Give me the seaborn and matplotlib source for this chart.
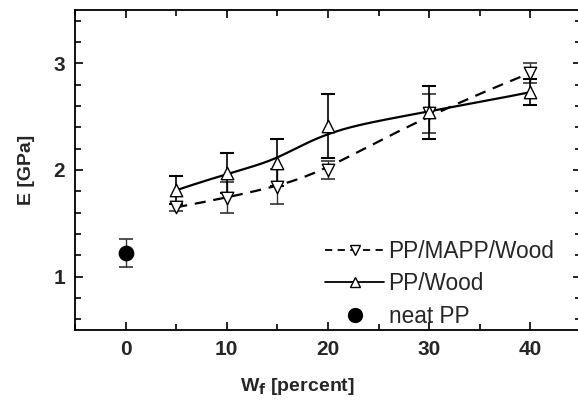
import numpy as np
import pandas as pd
import matplotlib
matplotlib.use("Agg")
import matplotlib.pyplot as plt
from matplotlib.lines import Line2D
from matplotlib.ticker import MultipleLocator
import seaborn as sns

# ---- data ----
wf = [5, 10, 15, 20, 30, 40]
e_mapp = [1.65, 1.74, 1.845, 2.00, 2.53, 2.91]
err_mapp = [0.03, 0.145, 0.16, 0.08, 0.18, 0.09]
e_wood = [1.81, 1.97, 2.07, 2.41, 2.54, 2.73]
err_wood = [0.13, 0.185, 0.22, 0.30, 0.25, 0.125]
wf_neat = [0]
e_neat = [1.22]
err_neat = [0.13]
labels = ["PP/MAPP/Wood", "PP/Wood", "neat PP"]


def bspline(px, py, n=300, k=3):
    """Clamped cubic B-spline using the data points as control points."""
    P = np.column_stack([px, py]).astype(float)
    m = len(P)
    inner = np.linspace(0, 1, m - k + 1)
    t = np.concatenate([[0.0] * k, inner, [1.0] * k])
    u = np.linspace(0, 1, n)
    u[-1] -= 1e-9
    B = np.zeros((n, len(t) - 1))
    for j in range(len(t) - 1):
        B[:, j] = (t[j] <= u) & (u < t[j + 1])
    for p in range(1, k + 1):
        nb = np.zeros((n, len(t) - 1 - p))
        for j in range(len(t) - 1 - p):
            a = 0.0
            d1 = t[j + p] - t[j]
            if d1 > 0:
                a = (u - t[j]) / d1 * B[:, j]
            b = 0.0
            d2 = t[j + p + 1] - t[j + 1]
            if d2 > 0:
                b = (t[j + p + 1] - u) / d2 * B[:, j + 1]
            nb[:, j] = a + b
        B = nb
    C = B @ P
    return C[:, 0], C[:, 1]


sns.set_style("ticks")
plt.rcParams["font.family"] = ["Liberation Sans", "DejaVu Sans"]

fig = plt.figure(figsize=(5.78, 4.0), dpi=100)
ax = fig.add_axes([75 / 578, 70 / 400, 506 / 578, 320 / 400])

# smooth curves
cx, cy = bspline(wf, e_mapp)
sns.lineplot(x=cx, y=cy, sort=False, estimator=None, ax=ax, color="black",
             lw=1.6, dashes=False, linestyle=(0, (5, 3.5)), zorder=2)
cx2, cy2 = bspline(wf, e_wood)
sns.lineplot(x=cx2, y=cy2, sort=False, estimator=None, ax=ax, color="black",
             lw=1.6, zorder=2)

# error bars
ax.errorbar(wf, e_mapp, yerr=err_mapp, fmt="none", ecolor="#333333",
            elinewidth=1.0, capsize=5, capthick=1.2, zorder=3)
ax.errorbar(wf, e_wood, yerr=err_wood, fmt="none", ecolor="black",
            elinewidth=1.2, capsize=5, capthick=1.5, zorder=3)
ax.errorbar(wf_neat, e_neat, yerr=err_neat, fmt="none", ecolor="#333333",
            elinewidth=1.0, capsize=5, capthick=1.2, zorder=3)

# markers
df_m = pd.DataFrame({"x": wf, "y": e_mapp})
df_w = pd.DataFrame({"x": wf, "y": e_wood})
df_n = pd.DataFrame({"x": wf_neat, "y": e_neat})
sns.scatterplot(data=df_m, x="x", y="y", marker="v", s=80, facecolor="white",
                edgecolor="black", linewidth=1.0, ax=ax, zorder=4)
sns.scatterplot(data=df_w, x="x", y="y", marker="^", s=80, facecolor="white",
                edgecolor="black", linewidth=1.0, ax=ax, zorder=4)
sns.scatterplot(data=df_n, x="x", y="y", marker="o", s=110, color="black",
                edgecolor="black", ax=ax, zorder=4)

ax.set_xlim(-5, 45)
ax.set_ylim(0.5, 3.5)
ax.xaxis.set_major_locator(MultipleLocator(10))
ax.xaxis.set_minor_locator(MultipleLocator(5))
ax.yaxis.set_major_locator(MultipleLocator(1))
ax.yaxis.set_minor_locator(MultipleLocator(0.2))
ax.tick_params(which="both", direction="in", top=True, right=True,
               color="black", width=1.2)
ax.tick_params(which="major", length=6, pad=7, labelsize=15)
ax.tick_params(which="minor", length=4)
for lab in ax.get_xticklabels() + ax.get_yticklabels():
    lab.set_fontweight("bold")
for sp in ax.spines.values():
    sp.set_linewidth(1.3)
    sp.set_color("black")

ax.set_xlabel("W$_\\mathbf{f}$ [percent]", fontsize=14, fontweight="bold")
ax.set_ylabel("E [GPa]", fontsize=14, fontweight="bold")
ax.xaxis.set_label_coords(0.44, -0.145)
ax.yaxis.set_label_coords(-0.095, 0.5)
ax.yaxis.label.set_verticalalignment("center")

handles = [
    Line2D([], [], color="black", lw=1.3, linestyle=(0, (4, 3)), marker="v",
           markersize=7, markerfacecolor="white", markeredgecolor="black"),
    Line2D([], [], color="black", lw=1.3, marker="^", markersize=7,
           markerfacecolor="white", markeredgecolor="black"),
    Line2D([], [], color="black", lw=0, marker="o", markersize=10),
]
ax.legend(handles, labels, loc="lower right", bbox_to_anchor=(0.972, -0.032),
          frameon=False, fontsize=16.3, handlelength=2.6, handletextpad=0.2,
          labelspacing=0.42, borderaxespad=0.15)

fig.savefig("out.png", dpi=100)
